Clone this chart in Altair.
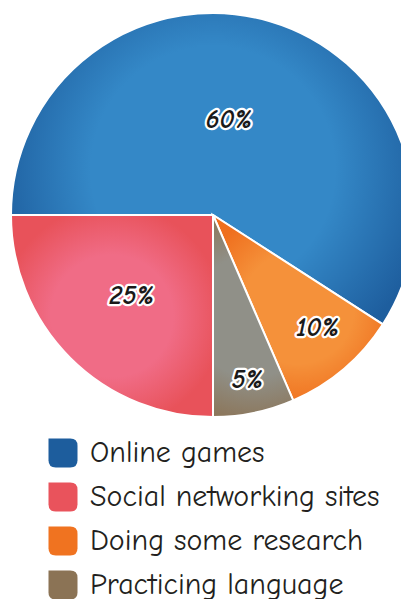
import math
import altair as alt
import pandas as pd

# ---- data ----
categories = ["Online games", "Social networking sites", "Doing some research", "Practicing language"]
values = [59.1, 25.0, 9.4, 6.5]
labels = ["60%", "25%", "10%", "5%"]
clockwise_rank = [0, 3, 1, 2]  # order of slices clockwise from 9 o'clock

# ---- styles ----
legend_colors = ["#1d5d9d", "#e9535c", "#f07320", "#8b7355"]
light_colors = ["#3488c7", "#f06c86", "#f5913a", "#909088"]
dark_colors = ["#1e5e9e", "#e8525a", "#ef6f1e", "#8b7355"]
label_radius = [96, 115, 154, 169]
label_shift = [-1.9, 0, -0.7, 0]
FONT = "Comic Neue, Comic Sans MS, Lato, sans-serif"
R = 202
CX, CY = 205, 207

df = pd.DataFrame({
    "category": categories,
    "value": values,
    "label": labels,
    "rank": clockwise_rank,
})

def case_expr(vals):
    expr = str(vals[-1])
    for c, v in reversed(list(zip(categories[:-1], vals[:-1]))):
        expr = f"datum.category == '{c}' ? {v} : ({expr})"
    return expr

theta_scale = alt.Scale(domain=[0, 100], range=[1.5 * math.pi, 3.5 * math.pi])

base = alt.Chart(df).transform_window(
    cum="sum(value)", sort=[alt.SortField("rank", order="ascending")], frame=[None, 0]
).transform_calculate(
    end="datum.cum",
    start="datum.cum - datum.value",
    mid="datum.cum - datum.value / 2 + (" + case_expr(label_shift) + ")",
    lr=case_expr(label_radius),
)

sym_path = "M-1,-1 H0.5 Q1,-1 1,-0.5 V0.5 Q1,1 0.5,1 H-0.5 Q-1,1 -1,0.5 Z"

legend_layer = base.mark_arc(outerRadius=R, stroke="white", strokeWidth=2).encode(
    x=alt.value(CX),
    y=alt.value(CY),
    theta=alt.Theta("start:Q", scale=theta_scale),
    theta2="end:Q",
    color=alt.Color(
        "category:N",
        scale=alt.Scale(domain=categories, range=legend_colors),
        legend=alt.Legend(
            orient="none", legendX=40, legendY=430, title=None,
            symbolType=sym_path, symbolSize=841, symbolStrokeWidth=0, symbolOpacity=1,
            labelFontSize=30, labelFont=FONT, labelColor="#231f20",
            labelOffset=12, rowPadding=14, padding=0, labelLimit=400,
        ),
    ),
)

layers = [legend_layer]
for cat, lc, dc in zip(categories, light_colors, dark_colors):
    grad = alt.RadialGradient(
        gradient="radial",
        stops=[
            alt.GradientStop(color=lc, offset=0),
            alt.GradientStop(color=lc, offset=0.55),
            alt.GradientStop(color=dc, offset=1),
        ],
        x1=0.5, y1=0.5, r1=0, x2=0.5, y2=0.5, r2=0.55,
    )
    layers.append(
        base.transform_filter(alt.datum.category == cat)
        .mark_arc(outerRadius=R, stroke="white", strokeWidth=2, fill=grad)
        .encode(x=alt.value(CX), y=alt.value(CY),
                theta=alt.Theta("start:Q", scale=theta_scale), theta2="end:Q")
    )

text_kw = dict(fontSize=26, fontStyle="italic", fontWeight="bold", font=FONT)
outline = base.mark_text(stroke="white", strokeWidth=4.5, strokeJoin="round", fill="white", **text_kw).encode(
    x=alt.value(CX), y=alt.value(CY),
    theta=alt.Theta("mid:Q", scale=theta_scale),
    radius=alt.Radius("lr:Q", scale=None),
    text="label:N",
)
txt = base.mark_text(fill="#1a1a1a", **text_kw).encode(
    x=alt.value(CX), y=alt.value(CY),
    theta=alt.Theta("mid:Q", scale=theta_scale),
    radius=alt.Radius("lr:Q", scale=None),
    text="label:N",
)
layers += [outline, txt]

chart = alt.layer(*layers).properties(
    width=393, height=414,
    padding={"left": 0, "top": 0, "right": 0, "bottom": 177},
    autosize=alt.AutoSizeParams(type="none"),
).configure_view(stroke=None)

chart.save("out.html", embed_options={"renderer": "svg", "actions": False})
